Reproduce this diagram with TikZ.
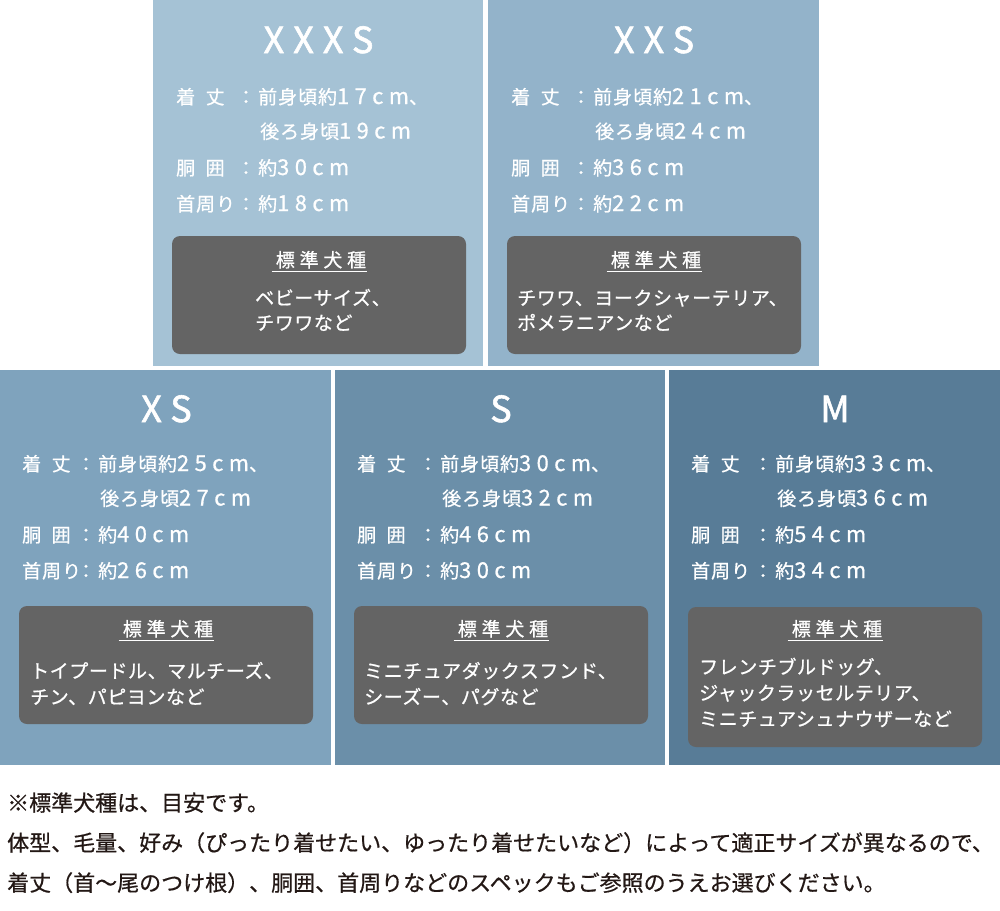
\documentclass[tikz,border=0pt]{standalone}
\usepackage{fontspec}
\usetikzlibrary{calc}
\newfontfamily\jp[LetterSpace=5,FakeBold=0.8]{Noto Sans CJK JP}
\newfontfamily\jpn[LetterSpace=25,Scale=1.15,FakeBold=0.8]{Noto Sans CJK JP}
\newfontfamily\jpt[LetterSpace=25,FakeBold=1.6]{Noto Sans CJK JP}
\newfontfamily\jph[LetterSpace=25,FakeBold=0.8]{Noto Sans CJK JP}
\newfontfamily\jpb[LetterSpace=3,FakeBold=0.8]{Noto Sans CJK JP}
\newfontfamily\jpf[FakeBold=0.6]{Noto Sans CJK JP}
\definecolor{cXXXS}{HTML}{A5C2D5}
\definecolor{cXXS}{HTML}{93B3CA}
\definecolor{cXS}{HTML}{7FA3BD}
\definecolor{cS}{HTML}{6B8FA9}
\definecolor{cM}{HTML}{587C97}
\definecolor{boxgray}{HTML}{646464}
\definecolor{footc}{HTML}{231815}
\newcommand\dignum[1]{{\jpn #1}}
\tikzset{
  panel/.style={anchor=north west, inner sep=0pt, outer sep=0pt, draw=none},
  breedbox/.style={anchor=north west, inner sep=0pt, outer sep=0pt, fill=boxgray, rounded corners=8pt},
  ttl/.style={anchor=base, text=white, font=\jpt\fontsize{36}{40}\selectfont, inner sep=0pt},
  lbl/.style={anchor=base west, text=white, font=\jp\fontsize{19}{22}\selectfont, inner sep=0pt},
  colon/.style={anchor=base, text=white, font=\jp\fontsize{19}{22}\selectfont, inner sep=0pt},
  brdh/.style={anchor=base, text=white, font=\jph\fontsize{19}{22}\selectfont, inner sep=0pt},
  brdt/.style={anchor=base west, text=white, font=\jpb\fontsize{19}{22}\selectfont, inner sep=0pt},
  uline/.style={draw=white, line width=1.3pt},
  foot/.style={anchor=base west, text=footc, font=\jpf\fontsize{22}{26}\selectfont, inner sep=0pt}
}
% #1 id, #2 label x, #3 value x, #4 first baseline, #5 front, #6 back, #7 chest, #8 neck
\newcommand\mkspecs[8]{%
  \pgfmathsetmacro\ya{#4}%
  \pgfmathsetmacro\yb{#4+34.5}%
  \pgfmathsetmacro\yc{#4+71}%
  \pgfmathsetmacro\yd{#4+107}%
  \pgfmathsetmacro\vxb{#3+2}%
  \pgfmathsetmacro\cxx{#3-12}%
  \node[lbl] (#1-l1) at (#2,\ya) {着\hspace{0.55em}丈};
  \node[colon] (#1-c1) at (\cxx,\ya) {：};
  \node[lbl] (#1-v1) at (#3,\ya) {前身頃約\dignum{#5cm}、};
  \node[lbl] (#1-v2) at (\vxb,\yb) {後ろ身頃\dignum{#6cm}};
  \node[lbl] (#1-l3) at (#2,\yc) {胴\hspace{0.55em}囲};
  \node[colon] (#1-c3) at (\cxx,\yc) {：};
  \node[lbl] (#1-v3) at (#3,\yc) {約\dignum{#7cm}};
  \node[lbl] (#1-l4) at (#2,\yd) {首周り};
  \node[colon] (#1-c4) at (\cxx,\yd) {：};
  \node[lbl] (#1-v4) at (#3,\yd) {約\dignum{#8cm}};
}
\begin{document}
\begin{tikzpicture}[x=1pt,y=-1pt]
\fill[white] (0,0) rectangle (1000,910);
\useasboundingbox (0,0) rectangle (1000,910);

% panels
\node[panel, fill=cXXXS, minimum width=330pt, minimum height=366pt] (pXXXS) at (153,0) {};
\node[panel, fill=cXXS, minimum width=331pt, minimum height=366pt] (pXXS) at (488,0) {};
\node[panel, fill=cXS, minimum width=331pt, minimum height=395pt] (pXS) at (0,370) {};
\node[panel, fill=cS, minimum width=330pt, minimum height=395pt] (pS) at (335,370) {};
\node[panel, fill=cM, minimum width=331pt, minimum height=395pt] (pM) at (669,370) {};

% titles
\node[ttl] (tXXXS) at (318.5,53) {XXXS};
\node[ttl] (tXXS) at (654,53) {XXS};
\node[ttl] (tXS) at (166.5,422) {XS};
\node[ttl] (tS) at (501,422) {S};
\node[ttl] (tM) at (835,422) {M};

% specs
\mkspecs{XXXS}{176}{258}{104}{17}{19}{30}{18}
\mkspecs{XXS}{511}{593}{104}{21}{24}{36}{22}
\mkspecs{XS}{22}{98}{471}{25}{27}{40}{26}
\mkspecs{S}{357}{440}{471}{30}{32}{46}{30}
\mkspecs{M}{691}{775}{471}{33}{36}{54}{34}

% breed boxes
\node[breedbox, minimum width=294pt, minimum height=118pt] (bXXXS) at (172,236) {};
\node[breedbox, minimum width=294pt, minimum height=118pt] (bXXS) at (507,236) {};
\node[breedbox, minimum width=294pt, minimum height=118pt] (bXS) at (19,606) {};
\node[breedbox, minimum width=294pt, minimum height=118pt] (bS) at (354,606) {};
\node[breedbox, minimum width=294pt, minimum height=140pt] (bM) at (688,607) {};

% breed headers
\node[brdh] (hXXXS) at (321,267) {標準犬種};
\node[brdh] (hXXS) at (656,267) {標準犬種};
\node[brdh] (hXS) at (168,636) {標準犬種};
\node[brdh] (hS) at (503,636) {標準犬種};
\node[brdh] (hM) at (837,636) {標準犬種};
\foreach \h/\cx in {hXXXS/319, hXXS/654, hXS/166, hS/501, hM/835}{
  \draw[uline] (\cx-47.5, 0 |- \h.base) ++(0,4.5) -- ++(95,0);
}

% breed texts
\node[brdt] (rXXXS1) at (255,305) {ベビーサイズ、};
\node[brdt] (rXXXS2) at (255,330) {チワワなど};
\node[brdt] (rXXS1) at (517,305) {チワワ、ヨークシャーテリア、};
\node[brdt] (rXXS2) at (517,330) {ポメラニアンなど};
\node[brdt] (rXS1) at (30,678) {トイプードル、マルチーズ、};
\node[brdt] (rXS2) at (30,704) {チン、パピヨンなど};
\node[brdt] (rS1) at (364,678) {ミニチュアダックスフンド、};
\node[brdt] (rS2) at (364,704) {シーズー、パグなど};
\node[brdt] (rM1) at (699,674) {フレンチブルドッグ、};
\node[brdt] (rM2) at (699,700) {ジャックラッセルテリア、};
\node[brdt] (rM3) at (699,726) {ミニチュアシュナウザーなど};

% footer
\node[foot] (f1) at (7,811) {※標準犬種は、目安です。};
\node[foot] (f2) at (7,851) {体型、毛量、好み（ぴったり着せたい、ゆったり着せたいなど）によって適正サイズが異なるので、};
\node[foot] (f3) at (7,891) {着丈（首〜尾のつけ根）、胴囲、首周りなどのスペックもご参照のうえお選びください。};
\end{tikzpicture}
\end{document}
